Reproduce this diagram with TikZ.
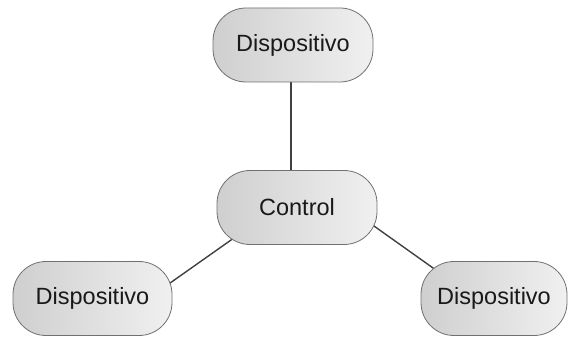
\documentclass[tikz,border=0pt]{standalone}
\usepackage{fontspec}
\setmainfont{Liberation Sans}
\usetikzlibrary{backgrounds}
\definecolor{boxedge}{HTML}{707070}
\definecolor{boxdark}{HTML}{CFCFCF}
\definecolor{boxlight}{HTML}{F0F0F0}
\definecolor{linkcol}{HTML}{404040}
\begin{document}
\begin{tikzpicture}[x=1pt,y=1pt,
  unit/.style={draw=boxedge, line width=0.8pt, rounded corners=33pt,
    left color=boxdark, right color=boxlight, inner sep=0pt,
    minimum height=74pt, text=black!90,
    font=\fontsize{23.5}{27}\selectfont},
  link/.style={draw=linkcol, line width=1.4pt}]
\useasboundingbox (0,0) rectangle (568,337);
\node[unit, minimum width=160pt] (top)   at (293,292)   {Dispositivo};
\node[unit, minimum width=160pt] (ctrl)  at (297,129.5) {Control};
\node[unit, minimum width=159pt] (left)  at (92.5,38.5) {Dispositivo};
\node[unit, minimum width=146pt] (right) at (494,38.5)  {Dispositivo};
\begin{scope}[on background layer]
  \draw[link] ([xshift=-2pt,yshift=4pt]top.south) -- ([xshift=-6pt,yshift=-4pt]ctrl.north);
  \draw[link] ([xshift=16pt,yshift=6pt]ctrl.south west) -- ([yshift=15pt,xshift=-3pt]left.east);
  \draw[link] ([xshift=-5pt,yshift=20pt]ctrl.south east) -- ([xshift=14pt,yshift=-8pt]right.north west);
\end{scope}
\end{tikzpicture}
\end{document}
